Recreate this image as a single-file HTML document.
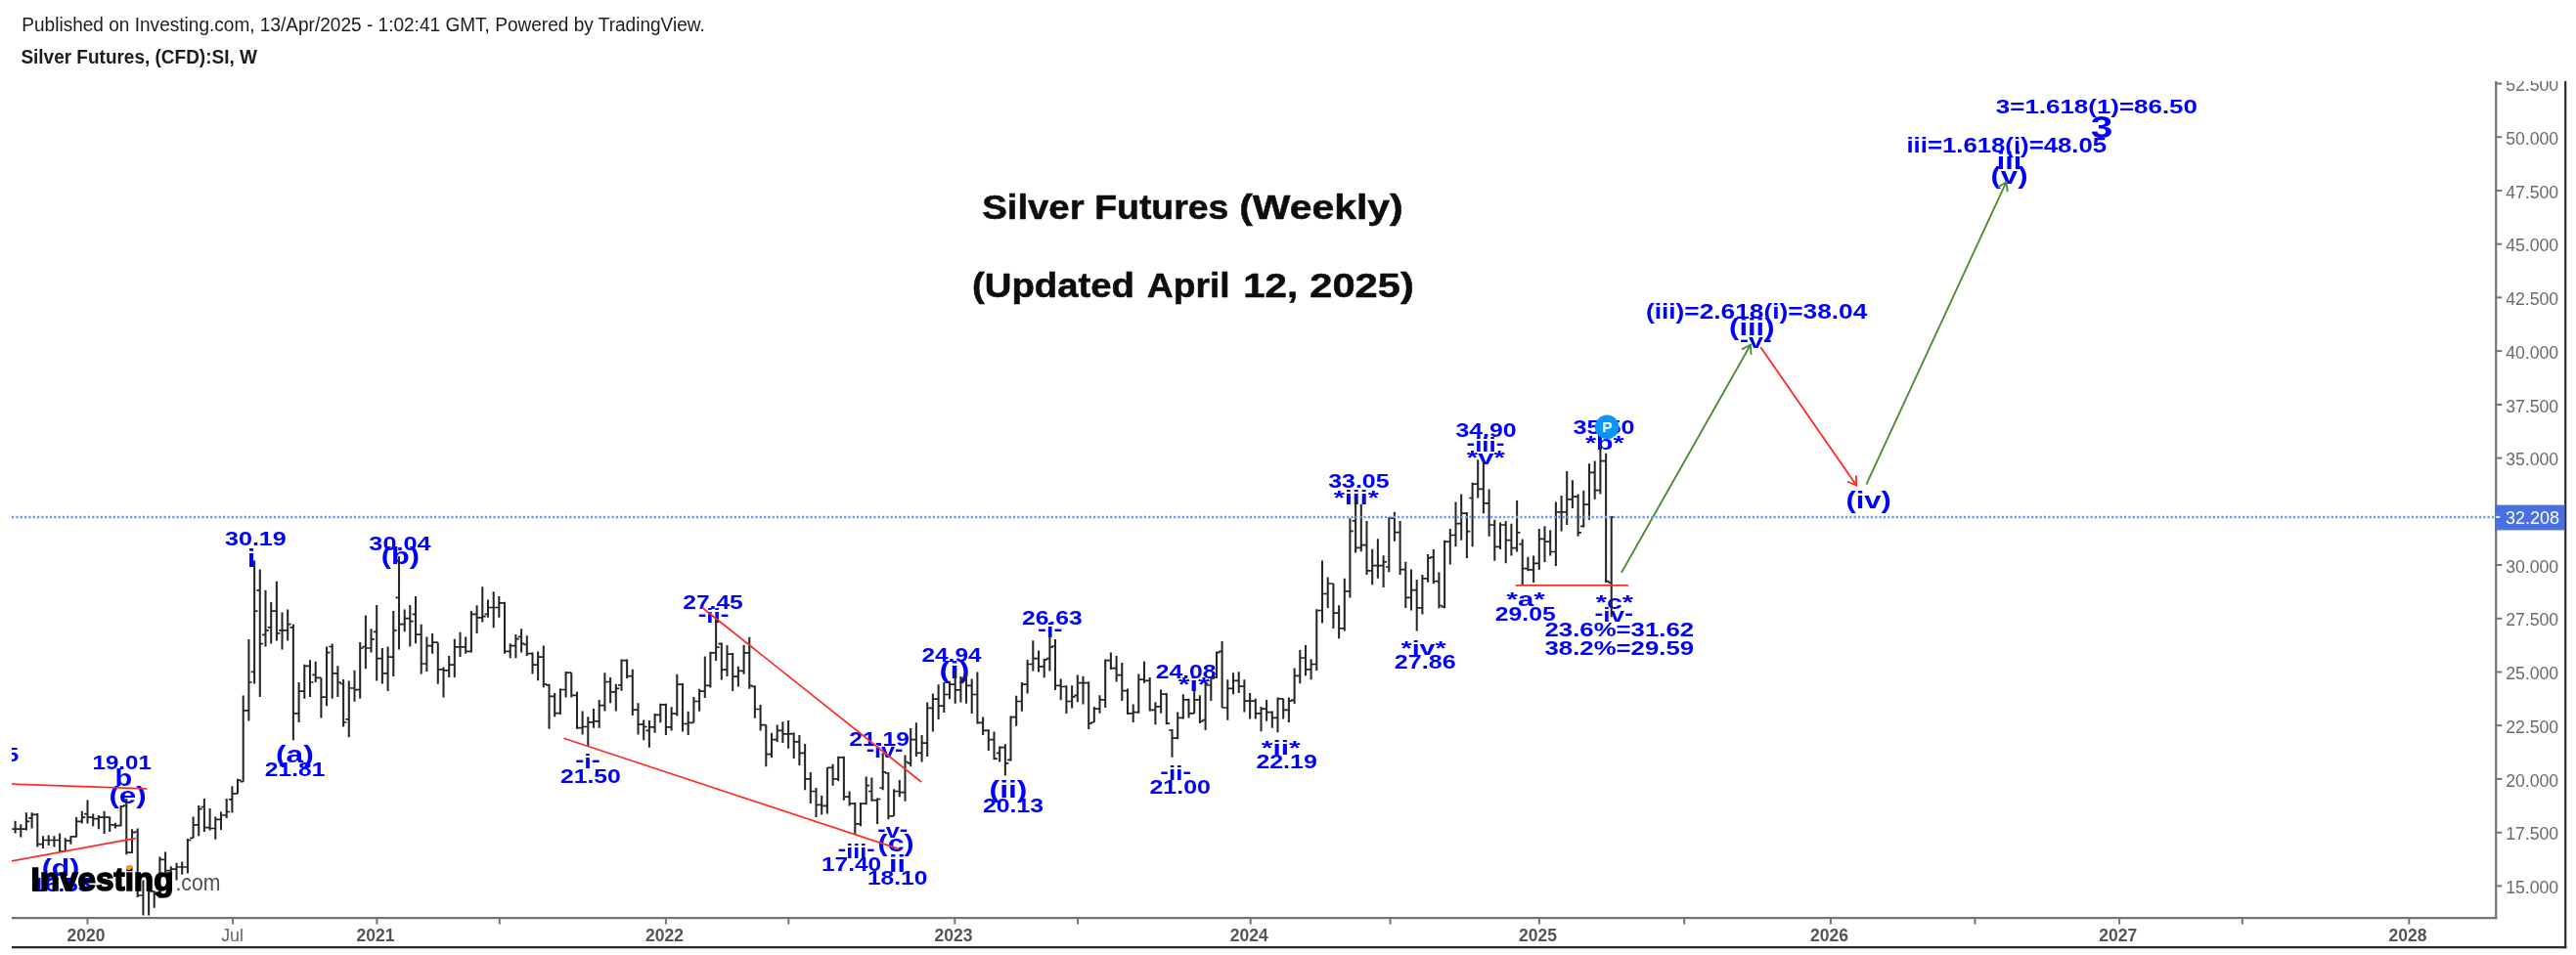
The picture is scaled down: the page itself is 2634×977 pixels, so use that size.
<!DOCTYPE html>
<html><head><meta charset="utf-8"><title>Silver Futures (Weekly)</title><style>html,body{margin:0;padding:0;background:#fff;overflow:hidden}</style></head><body>
<svg width="2634" height="977" viewBox="0 0 2634 977" style="display:block;font-family:'Liberation Sans',sans-serif">
<defs><clipPath id="ct"><rect x="2555" y="83" width="70" height="30"/></clipPath><clipPath id="cp"><rect x="12" y="83" width="2540" height="853.5"/></clipPath><filter id="bl" x="-5%" y="-5%" width="110%" height="110%"><feGaussianBlur stdDeviation="0.55"/></filter><filter id="bl2" x="-1%" y="-5%" width="102%" height="110%"><feGaussianBlur stdDeviation="0.45"/></filter></defs>
<rect width="2634" height="977" fill="#fff"/>
<g filter="url(#bl)">
<text x="22.3" y="32.2" font-size="19.6" fill="#1c1c1c" textLength="698.5" lengthAdjust="spacingAndGlyphs">Published on Investing.com, 13/Apr/2025 - 1:02:41 GMT, Powered by TradingView.</text>
<text x="21.4" y="64.7" font-size="19.6" font-weight="bold" fill="#1c1c1c" textLength="241.5" lengthAdjust="spacingAndGlyphs">Silver Futures, (CFD):SI, W</text>
<g clip-path="url(#cp)">
<text x="-11.1" y="779.3" font-size="20.7" font-weight="bold" fill="#0000ff" text-anchor="middle" textLength="61.0" lengthAdjust="spacingAndGlyphs">19.75</text>
<text x="124.7" y="786.8" font-size="20.7" font-weight="bold" fill="#0000ff" text-anchor="middle" textLength="60.4" lengthAdjust="spacingAndGlyphs">19.01</text>
<text x="261.4" y="558.2" font-size="20.7" font-weight="bold" fill="#0000ff" text-anchor="middle" textLength="62.9" lengthAdjust="spacingAndGlyphs">30.19</text>
<text x="409.0" y="562.7" font-size="20.7" font-weight="bold" fill="#0000ff" text-anchor="middle" textLength="63.3" lengthAdjust="spacingAndGlyphs">30.04</text>
<text x="301.6" y="794.0" font-size="20.7" font-weight="bold" fill="#0000ff" text-anchor="middle" textLength="61.6" lengthAdjust="spacingAndGlyphs">21.81</text>
<text x="603.9" y="801.3" font-size="20.7" font-weight="bold" fill="#0000ff" text-anchor="middle" textLength="61.9" lengthAdjust="spacingAndGlyphs">21.50</text>
<text x="729.0" y="622.7" font-size="20.7" font-weight="bold" fill="#0000ff" text-anchor="middle" textLength="61.5" lengthAdjust="spacingAndGlyphs">27.45</text>
<text x="899.1" y="762.6" font-size="20.7" font-weight="bold" fill="#0000ff" text-anchor="middle" textLength="61.6" lengthAdjust="spacingAndGlyphs">21.19</text>
<text x="870.6" y="891.2" font-size="20.7" font-weight="bold" fill="#0000ff" text-anchor="middle" textLength="61.3" lengthAdjust="spacingAndGlyphs">17.40</text>
<text x="917.7" y="905.3" font-size="20.7" font-weight="bold" fill="#0000ff" text-anchor="middle" textLength="61.5" lengthAdjust="spacingAndGlyphs">18.10</text>
<text x="973.0" y="677.1" font-size="20.7" font-weight="bold" fill="#0000ff" text-anchor="middle" textLength="61.0" lengthAdjust="spacingAndGlyphs">24.94</text>
<text x="1036.0" y="831.3" font-size="20.7" font-weight="bold" fill="#0000ff" text-anchor="middle" textLength="62.0" lengthAdjust="spacingAndGlyphs">20.13</text>
<text x="1075.8" y="638.5" font-size="20.7" font-weight="bold" fill="#0000ff" text-anchor="middle" textLength="61.7" lengthAdjust="spacingAndGlyphs">26.63</text>
<text x="1212.6" y="694.3" font-size="20.7" font-weight="bold" fill="#0000ff" text-anchor="middle" textLength="61.9" lengthAdjust="spacingAndGlyphs">24.08</text>
<text x="1206.7" y="811.6" font-size="20.7" font-weight="bold" fill="#0000ff" text-anchor="middle" textLength="62.4" lengthAdjust="spacingAndGlyphs">21.00</text>
<text x="1315.6" y="785.6" font-size="20.7" font-weight="bold" fill="#0000ff" text-anchor="middle" textLength="62.4" lengthAdjust="spacingAndGlyphs">22.19</text>
<text x="1389.4" y="498.5" font-size="20.7" font-weight="bold" fill="#0000ff" text-anchor="middle" textLength="62.4" lengthAdjust="spacingAndGlyphs">33.05</text>
<text x="1457.2" y="684.1" font-size="20.7" font-weight="bold" fill="#0000ff" text-anchor="middle" textLength="62.8" lengthAdjust="spacingAndGlyphs">27.86</text>
<text x="1519.5" y="447.2" font-size="20.7" font-weight="bold" fill="#0000ff" text-anchor="middle" textLength="62.1" lengthAdjust="spacingAndGlyphs">34.90</text>
<text x="1640.0" y="444.2" font-size="20.7" font-weight="bold" fill="#0000ff" text-anchor="middle" textLength="63.1" lengthAdjust="spacingAndGlyphs">35.50</text>
<text x="1559.8" y="635.4" font-size="20.7" font-weight="bold" fill="#0000ff" text-anchor="middle" textLength="61.9" lengthAdjust="spacingAndGlyphs">29.05</text>
<text x="1655.8" y="650.5" font-size="20.7" font-weight="bold" fill="#0000ff" text-anchor="middle" textLength="152.6" lengthAdjust="spacingAndGlyphs">23.6%=31.62</text>
<text x="1655.8" y="670.2" font-size="20.7" font-weight="bold" fill="#0000ff" text-anchor="middle" textLength="152.6" lengthAdjust="spacingAndGlyphs">38.2%=29.59</text>
<text x="62.8" y="911.6" font-size="20.7" font-weight="bold" fill="#0000ff" text-anchor="middle" textLength="60.6" lengthAdjust="spacingAndGlyphs">16.55</text>
<text x="601.1" y="786.2" font-size="20.8" font-weight="bold" fill="#0000ff" text-anchor="middle" textLength="25.6" lengthAdjust="spacingAndGlyphs"><tspan dy="-2.2">-</tspan><tspan dy="2.2">i</tspan><tspan dy="-2.2">-</tspan></text>
<text x="729.6" y="636.9" font-size="20.8" font-weight="bold" fill="#0000ff" text-anchor="middle" textLength="31.8" lengthAdjust="spacingAndGlyphs"><tspan dy="-2.2">-</tspan><tspan dy="2.2">ii</tspan><tspan dy="-2.2">-</tspan></text>
<text x="904.6" y="775.2" font-size="20.8" font-weight="bold" fill="#0000ff" text-anchor="middle" textLength="37.9" lengthAdjust="spacingAndGlyphs"><tspan dy="-2.2">-</tspan><tspan dy="2.2">iv</tspan><tspan dy="-2.2">-</tspan></text>
<text x="875.8" y="877.5" font-size="20.8" font-weight="bold" fill="#0000ff" text-anchor="middle" textLength="38.0" lengthAdjust="spacingAndGlyphs"><tspan dy="-2.2">-</tspan><tspan dy="2.2">iii</tspan><tspan dy="-2.2">-</tspan></text>
<text x="912.8" y="857.2" font-size="20.8" font-weight="bold" fill="#0000ff" text-anchor="middle" textLength="31.0" lengthAdjust="spacingAndGlyphs"><tspan dy="-2.2">-</tspan><tspan dy="2.2">v</tspan><tspan dy="-2.2">-</tspan></text>
<text x="1073.8" y="651.9" font-size="20.8" font-weight="bold" fill="#0000ff" text-anchor="middle" textLength="25.5" lengthAdjust="spacingAndGlyphs"><tspan dy="-2.2">-</tspan><tspan dy="2.2">i</tspan><tspan dy="-2.2">-</tspan></text>
<text x="1220.8" y="706.9" font-size="20.8" font-weight="bold" fill="#0000ff" text-anchor="middle" textLength="32.2" lengthAdjust="spacingAndGlyphs">*i*</text>
<text x="1202.2" y="797.7" font-size="20.8" font-weight="bold" fill="#0000ff" text-anchor="middle" textLength="31.8" lengthAdjust="spacingAndGlyphs"><tspan dy="-2.2">-</tspan><tspan dy="2.2">ii</tspan><tspan dy="-2.2">-</tspan></text>
<text x="1309.7" y="772.2" font-size="20.8" font-weight="bold" fill="#0000ff" text-anchor="middle" textLength="39.8" lengthAdjust="spacingAndGlyphs">*ii*</text>
<text x="1386.8" y="515.5" font-size="20.8" font-weight="bold" fill="#0000ff" text-anchor="middle" textLength="46.0" lengthAdjust="spacingAndGlyphs">*iii*</text>
<text x="1455.6" y="670.3" font-size="20.8" font-weight="bold" fill="#0000ff" text-anchor="middle" textLength="46.1" lengthAdjust="spacingAndGlyphs">*iv*</text>
<text x="1519.0" y="461.9" font-size="20.8" font-weight="bold" fill="#0000ff" text-anchor="middle" textLength="39.0" lengthAdjust="spacingAndGlyphs"><tspan dy="-2.2">-</tspan><tspan dy="2.2">iii</tspan><tspan dy="-2.2">-</tspan></text>
<text x="1519.3" y="475.0" font-size="20.8" font-weight="bold" fill="#0000ff" text-anchor="middle" textLength="38.9" lengthAdjust="spacingAndGlyphs">*v*</text>
<text x="1640.8" y="459.6" font-size="20.8" font-weight="bold" fill="#0000ff" text-anchor="middle" textLength="39.8" lengthAdjust="spacingAndGlyphs">*b*</text>
<text x="1560.2" y="620.3" font-size="20.8" font-weight="bold" fill="#0000ff" text-anchor="middle" textLength="39.2" lengthAdjust="spacingAndGlyphs">*a*</text>
<text x="1650.9" y="622.8" font-size="20.8" font-weight="bold" fill="#0000ff" text-anchor="middle" textLength="38.3" lengthAdjust="spacingAndGlyphs">*c*</text>
<text x="1650.3" y="636.2" font-size="20.8" font-weight="bold" fill="#0000ff" text-anchor="middle" textLength="39.5" lengthAdjust="spacingAndGlyphs"><tspan dy="-2.2">-</tspan><tspan dy="2.2">iv</tspan><tspan dy="-2.2">-</tspan></text>
<text x="1795.4" y="355.8" font-size="20.8" font-weight="bold" fill="#0000ff" text-anchor="middle" textLength="32.9" lengthAdjust="spacingAndGlyphs"><tspan dy="-2.2">-</tspan><tspan dy="2.2">v</tspan><tspan dy="-2.2">-</tspan></text>
<text x="130.6" y="822.1" font-size="23.5" font-weight="bold" fill="#0000ff" text-anchor="middle" textLength="38.4" lengthAdjust="spacingAndGlyphs">(e)</text>
<text x="62.0" y="895.8" font-size="23.5" font-weight="bold" fill="#0000ff" text-anchor="middle" textLength="38.5" lengthAdjust="spacingAndGlyphs">(d)</text>
<text x="409.4" y="577.4" font-size="23.5" font-weight="bold" fill="#0000ff" text-anchor="middle" textLength="39.2" lengthAdjust="spacingAndGlyphs">(b)</text>
<text x="301.4" y="779.5" font-size="23.5" font-weight="bold" fill="#0000ff" text-anchor="middle" textLength="38.8" lengthAdjust="spacingAndGlyphs">(a)</text>
<text x="916.1" y="870.6" font-size="23.5" font-weight="bold" fill="#0000ff" text-anchor="middle" textLength="37.0" lengthAdjust="spacingAndGlyphs">(c)</text>
<text x="976.0" y="693.6" font-size="23.5" font-weight="bold" fill="#0000ff" text-anchor="middle" textLength="31.2" lengthAdjust="spacingAndGlyphs">(i)</text>
<text x="1031.0" y="816.1" font-size="23.5" font-weight="bold" fill="#0000ff" text-anchor="middle" textLength="38.9" lengthAdjust="spacingAndGlyphs">(ii)</text>
<text x="1791.3" y="343.4" font-size="23.5" font-weight="bold" fill="#0000ff" text-anchor="middle" textLength="46.4" lengthAdjust="spacingAndGlyphs">(iii)</text>
<text x="1910.6" y="520.1" font-size="23.5" font-weight="bold" fill="#0000ff" text-anchor="middle" textLength="46.4" lengthAdjust="spacingAndGlyphs">(iv)</text>
<text x="2054.5" y="188.0" font-size="23.5" font-weight="bold" fill="#0000ff" text-anchor="middle" textLength="38.0" lengthAdjust="spacingAndGlyphs">(v)</text>
<text x="126.3" y="804.4" font-size="23" font-weight="bold" fill="#0000ff" text-anchor="middle" textLength="17.7" lengthAdjust="spacingAndGlyphs">b</text>
<text x="257.2" y="579.5" font-size="26.5" font-weight="bold" fill="#0000ff" text-anchor="middle" textLength="8.2" lengthAdjust="spacingAndGlyphs">i</text>
<text x="917.6" y="892.0" font-size="24" font-weight="bold" fill="#0000ff" text-anchor="middle" textLength="17.0" lengthAdjust="spacingAndGlyphs">ii</text>
<text x="2054.5" y="173.3" font-size="24" font-weight="bold" fill="#0000ff" text-anchor="middle" textLength="25.4" lengthAdjust="spacingAndGlyphs">iii</text>
<text x="2149.2" y="140.9" font-size="31.5" font-weight="bold" fill="#0000ff" text-anchor="middle" textLength="22.7" lengthAdjust="spacingAndGlyphs">3</text>
<text x="1796.1" y="326.4" font-size="21.2" font-weight="bold" fill="#0000ff" text-anchor="middle" textLength="226.4" lengthAdjust="spacingAndGlyphs">(iii)=2.618(i)=38.04</text>
<text x="2143.9" y="116.0" font-size="20.8" font-weight="bold" fill="#0000ff" text-anchor="middle" textLength="206.1" lengthAdjust="spacingAndGlyphs">3=1.618(1)=86.50</text>
<text x="2051.8" y="156.0" font-size="21.4" font-weight="bold" fill="#0000ff" text-anchor="middle" textLength="204.7" lengthAdjust="spacingAndGlyphs">iii=1.618(i)=48.05</text>
<g filter="url(#bl2)">
<path d="M15.6 839.7V852.4M21.3 843.2V856.6M26.9 831.2V849.6M32.6 831.2V847.5M38.3 831.9V866.5M44.0 855.2V868.0M49.7 854.5V865.1M55.4 855.2V866.5M61.1 852.4V871.5M66.8 857.3V870.8M72.4 855.2V863.7M78.1 836.1V856.6M83.8 829.8V842.5M89.5 818.5V842.5M95.2 832.6V845.3M100.9 834.0V848.2M106.6 829.8V853.1M112.2 835.4V851.0M117.9 841.8V847.5M123.6 824.1V845.3M129.3 817.1V874.3M135.0 848.2V872.9M140.7 847.5V918.1M146.4 900.5V951.3M152.1 908.9V951.3M157.7 911.8V928.7M163.4 876.4V918.8M169.1 871.5V894.8M174.8 886.3V899.0M180.5 882.8V900.5M186.2 881.4V894.8M191.9 858.1V893.4M197.6 835.4V857.3M203.2 824.1V855.2M208.9 817.1V851.0M214.6 827.0V849.6M220.3 835.4V858.8M226.0 830.5V848.9M231.7 817.1V836.9M237.4 804.3V831.6M243.0 796.7V811.9M248.7 711.6V799.7M254.4 653.9V737.4M260.1 573.4V699.5M265.8 582.5V713.1M271.5 603.8V661.5M277.2 615.9V658.5M282.9 594.7V655.4M288.5 626.6V664.5M294.2 623.5V655.4M299.9 638.7V757.2M305.6 698.0V739.0M311.3 679.7V714.7M317.0 675.2V713.1M322.7 676.7V698.0M328.4 693.4V734.4M334.0 661.5V722.3M339.7 658.5V714.7M345.4 681.3V713.1M351.1 694.9V743.5M356.8 696.4V754.2M362.5 685.8V717.7M368.2 657.0V714.7M373.9 629.6V684.3M379.5 643.3V667.6M385.2 619.0V696.4M390.9 663.0V699.5M396.6 661.5V707.1M402.3 625.1V691.9M408.0 568.9V664.5M413.7 623.5V646.3M419.3 619.0V661.5M425.0 609.9V658.3M430.7 638.7V689.4M436.4 651.4V687.1M442.1 647.9V668.7M447.8 657.2V699.8M453.5 682.5V713.6M459.2 671.0V692.9M464.8 653.7V692.9M470.5 646.8V672.1M476.2 651.4V668.7M481.9 624.9V667.5M487.6 619.2V647.9M493.3 600.3V636.4M499.0 613.4V631.8M504.7 605.3V642.2M510.3 609.9V631.8M516.0 615.7V668.7M521.7 658.3V673.3M527.4 649.1V673.3M533.1 643.3V667.5M538.8 650.2V671.0M544.5 667.5V689.4M550.1 666.4V696.3M555.8 660.6V703.2M561.5 699.8V745.8M567.2 709.0V733.2M572.9 704.4V730.9M578.6 687.1V713.6M584.3 688.2V713.6M590.0 707.8V745.8M595.6 727.4V751.6M601.3 733.2V763.1M607.0 725.1V744.7M612.7 715.9V744.7M618.4 688.2V727.4M624.1 692.9V719.3M629.8 699.8V727.4M635.5 674.4V706.7M641.1 674.4V694.0M646.8 684.8V732.0M652.5 719.3V751.6M658.2 736.6V757.3M663.9 737.0V764.7M669.6 730.1V749.7M675.3 719.8V739.3M680.9 719.8V752.0M686.6 723.2V747.4M692.3 689.8V732.4M698.0 699.0V748.5M703.7 727.8V752.0M709.4 712.9V739.3M715.1 704.8V727.8M720.8 671.4V714.0M726.4 666.8V703.6M732.1 631.1V676.0M737.8 657.6V695.6M743.5 659.9V692.1M749.2 667.9V707.1M754.9 681.8V702.5M760.6 659.9V689.8M766.3 651.8V704.8M771.9 701.3V734.7M777.6 720.9V747.4M783.3 741.6V784.2M789.0 749.7V775.0M794.7 741.6V758.9M800.4 738.2V760.1M806.1 737.0V765.8M811.7 749.6V776.1M817.4 751.9V783.0M823.1 761.1V808.3M828.8 789.9V822.1M834.5 806.0V835.9M840.2 814.1V833.6M845.9 785.3V832.5M851.6 781.8V803.7M857.2 773.8V799.1M862.9 773.8V818.7M868.6 809.5V824.4M874.3 821.0V853.2M880.0 821.0V845.2M885.7 794.5V823.3M891.4 795.6V819.8M897.1 816.4V842.9M902.7 770.3V808.3M908.4 789.9V838.2M914.1 807.2V834.8M919.8 797.9V815.2M925.5 772.6V819.8M931.2 745.1V784.2M936.9 739.3V773.9M942.6 752.0V779.6M948.2 718.6V773.9M953.9 709.4V748.5M959.6 700.2V735.9M965.3 697.9V729.0M971.0 696.7V715.2M976.7 686.4V719.8M982.4 692.1V718.6M988.0 688.7V719.8M993.7 694.4V730.1M999.4 687.5V740.5M1005.1 733.6V752.0M1010.8 746.2V768.1M1016.5 748.5V777.3M1022.2 763.5V779.6M1027.9 761.2V793.5M1033.5 732.4V778.5M1039.2 711.7V742.8M1044.9 697.9V727.8M1050.6 674.9V709.4M1056.3 655.3V686.4M1062.0 665.6V687.5M1067.7 673.7V693.3M1073.4 649.5V686.4M1079.0 654.1V705.9M1084.7 694.4V716.3M1090.4 701.3V730.1M1096.1 701.3V724.4M1101.8 690.6V718.2M1107.5 691.8V720.5M1113.2 697.5V745.9M1118.8 722.9V739.0M1124.5 711.3V729.8M1130.2 674.5V724.0M1135.9 667.6V684.9M1141.6 671.0V697.5M1147.3 677.9V717.1M1153.0 704.4V730.9M1158.7 720.5V739.0M1164.3 689.5V729.8M1170.0 676.8V698.7M1175.7 692.9V727.5M1181.4 718.2V741.3M1187.1 705.6V729.8M1192.8 709.0V741.3M1198.5 745.9V774.7M1204.2 728.6V756.2M1209.8 710.2V735.5M1215.5 714.8V734.4M1221.2 706.7V729.8M1226.9 711.3V740.1M1232.6 698.7V747.0M1238.3 692.9V717.1M1244.0 666.4V694.1M1249.6 656.1V724.0M1255.3 695.2V736.7M1261.0 688.3V710.2M1266.7 687.2V709.0M1272.4 695.2V728.6M1278.1 709.0V735.5M1283.8 714.8V735.5M1289.5 722.9V748.2M1295.1 715.9V737.8M1300.8 727.5V744.7M1306.5 713.6V749.3M1312.2 714.8V735.5M1317.9 713.6V739.0M1323.6 683.5V720.1M1329.3 665.1V699.2M1335.0 659.9V691.3M1340.6 674.3V695.2M1346.3 623.2V686.1M1352.0 573.5V637.6M1357.7 590.5V621.9M1363.4 597.0V642.9M1369.1 619.3V653.3M1374.8 591.8V645.5M1380.4 530.2V611.4M1386.1 509.3V565.6M1391.8 515.8V564.3M1397.5 532.9V587.9M1403.2 561.7V598.3M1408.9 551.2V591.8M1414.6 568.2V601.0M1420.3 528.9V585.2M1425.9 523.7V553.8M1431.6 532.9V587.9M1437.3 574.8V621.9M1443.0 582.6V624.5M1448.7 593.1V645.5M1454.4 587.9V628.5M1460.1 566.9V595.7M1465.8 561.9V597.3M1471.4 585.5V622.2M1477.1 552.7V622.2M1482.8 541.0V577.6M1488.5 513.5V559.3M1494.2 505.6V552.7M1499.9 523.9V571.1M1505.6 493.8V559.3M1511.2 470.2V509.5M1516.9 471.6V525.2M1522.6 500.4V548.8M1528.3 531.8V573.7M1534.0 534.4V561.9M1539.7 533.1V576.3M1545.4 535.7V568.5M1551.1 512.1V564.5M1556.7 551.4V598.6M1562.4 569.8V584.2M1568.1 568.5V596.0M1573.8 541.0V582.9M1579.5 538.3V575.0M1585.2 542.3V568.5M1590.9 513.5V578.9M1596.6 506.9V543.6M1602.2 482.0V537.0M1607.9 491.2V520.0M1613.6 505.6V548.8M1619.3 501.7V539.6M1625.0 474.2V531.8M1630.7 471.6V510.8M1636.4 455.8V505.6M1642.1 463.7V596.0M1647.7 527.9V631.3" stroke="#262626" stroke-width="2.05" fill="none"/>
<path d="M12.2 848.2H15.6M15.6 848.2H19.0M17.9 848.2H21.3M21.3 848.2H24.7M23.5 848.2H26.9M26.9 840.4H30.3M29.2 836.9H32.6M32.6 833.3H36.0M34.9 833.3H38.3M38.3 863.7H41.7M40.6 863.7H44.0M44.0 859.5H47.4M46.3 859.5H49.7M49.7 859.5H53.1M52.0 859.5H55.4M55.4 859.5H58.8M57.7 859.5H61.1M61.1 870.8H64.5M63.4 870.8H66.8M66.8 860.2H70.2M69.0 860.2H72.4M72.4 855.9H75.8M74.7 855.9H78.1M78.1 840.4H81.5M80.4 840.4H83.8M83.8 836.1H87.2M86.1 832.6H89.5M89.5 836.1H92.9M91.8 836.1H95.2M95.2 837.6H98.6M97.5 837.6H100.9M100.9 836.1H104.3M103.2 836.1H106.6M106.6 836.1H110.0M108.8 836.1H112.2M112.2 843.9H115.6M114.5 843.9H117.9M117.9 844.6H121.3M120.2 844.6H123.6M123.6 824.8H127.0M125.9 824.1H129.3M129.3 872.2H132.7M131.6 872.2H135.0M135.0 851.7H138.4M137.3 851.0H140.7M140.7 916.0H144.1M143.0 916.0H146.4M146.4 937.9H149.8M148.7 937.9H152.1M152.1 911.8H155.5M154.3 911.8H157.7M157.7 914.6H161.1M160.0 914.6H163.4M163.4 879.3H166.8M165.7 879.3H169.1M169.1 890.6H172.5M171.4 890.6H174.8M174.8 889.2H178.2M177.1 889.2H180.5M180.5 887.0H183.9M182.8 887.0H186.2M186.2 887.0H189.6M188.5 887.0H191.9M191.9 859.5H195.3M194.2 857.3H197.6M197.6 843.9H201.0M199.8 843.9H203.2M203.2 827.7H206.6M205.5 825.5H208.9M208.9 846.7H212.3M211.2 846.7H214.6M214.6 847.5H218.0M216.9 847.5H220.3M220.3 838.3H223.7M222.6 838.3H226.0M226.0 834.0H229.4M228.3 834.0H231.7M231.7 830.5H235.1M234.0 817.9H237.4M237.4 811.9H240.8M239.6 811.9H243.0M243.0 798.2H246.4M245.3 799.7H248.7M248.7 726.8H252.1M251.0 726.8H254.4M254.4 698.0H257.8M256.7 687.3H260.1M260.1 625.1H263.5M262.4 603.8H265.8M265.8 658.5H269.2M268.1 649.4H271.5M271.5 644.8H274.9M273.8 641.8H277.2M277.2 625.1H280.6M279.5 625.1H282.9M282.9 647.8H286.3M285.1 644.8H288.5M288.5 644.8H291.9M290.8 644.8H294.2M294.2 638.7H297.6M296.5 641.8H299.9M299.9 729.9H303.3M302.2 729.9H305.6M305.6 707.1H309.0M307.9 707.1H311.3M311.3 681.3H314.7M313.6 681.3H317.0M317.0 698.0H320.4M319.3 690.4H322.7M322.7 693.4H326.1M325.0 693.4H328.4M328.4 713.1H331.8M330.6 713.1H334.0M334.0 667.6H337.4M336.3 661.5H339.7M339.7 688.8H343.1M342.0 688.8H345.4M345.4 698.0H348.8M347.7 699.5H351.1M351.1 739.0H354.5M353.4 735.9H356.8M356.8 704.0H360.2M359.1 704.0H362.5M362.5 705.6H365.9M364.8 705.6H368.2M368.2 663.0H371.6M370.5 661.5H373.9M373.9 663.0H377.2M376.1 663.0H379.5M379.5 653.9H382.9M381.8 646.3H385.2M385.2 673.7H388.6M387.5 673.7H390.9M390.9 688.8H394.3M393.2 688.8H396.6M396.6 672.1H400.0M398.9 672.1H402.3M402.3 644.8H405.7M404.6 611.4H408.0M408.0 638.7H411.4M410.3 638.7H413.7M413.7 632.6H417.1M415.9 632.6H419.3M419.3 635.7H422.7M421.6 628.4H425.0M425.0 649.1H428.4M427.3 649.1H430.7M430.7 679.0H434.1M433.0 679.0H436.4M436.4 660.6H439.8M438.7 660.6H442.1M442.1 657.2H445.5M444.4 657.2H447.8M447.8 684.8H451.2M450.1 684.8H453.5M453.5 685.9H456.9M455.8 685.9H459.2M459.2 680.2H462.6M461.4 680.2H464.8M464.8 661.8H468.2M467.1 661.8H470.5M470.5 661.8H473.9M472.8 661.8H476.2M476.2 666.4H479.6M478.5 666.4H481.9M481.9 628.4H485.3M484.2 628.4H487.6M487.6 631.8H491.0M489.9 631.8H493.3M493.3 630.7H496.7M495.6 628.4H499.0M499.0 621.5H502.4M501.3 621.5H504.7M504.7 621.5H508.1M506.9 621.5H510.3M510.3 616.8H513.7M512.6 616.8H516.0M516.0 666.4H519.4M518.3 666.4H521.7M521.7 660.6H525.1M524.0 660.6H527.4M527.4 653.7H530.8M529.7 651.4H533.1M533.1 658.3H536.5M535.4 659.5H538.8M538.8 668.7H542.2M541.1 668.7H544.5M544.5 680.2H547.9M546.7 680.2H550.1M550.1 672.1H553.5M552.4 672.1H555.8M555.8 699.8H559.2M558.1 700.9H561.5M561.5 712.4H564.9M563.8 712.4H567.2M567.2 729.7H570.6M569.5 729.7H572.9M572.9 705.5H576.3M575.2 705.5H578.6M578.6 688.2H582.0M580.9 688.2H584.3M584.3 711.3H587.7M586.6 711.3H590.0M590.0 744.7H593.4M592.2 744.7H595.6M595.6 743.5H599.0M597.9 743.5H601.3M601.3 738.9H604.7M603.6 738.9H607.0M607.0 737.8H610.4M609.3 737.8H612.7M612.7 721.6H616.1M615.0 721.6H618.4M618.4 697.5H621.8M620.7 697.5H624.1M624.1 707.8H627.5M626.4 707.8H629.8M629.8 704.4H633.2M632.1 700.9H635.5M635.5 675.6H638.9M637.7 675.6H641.1M641.1 691.7H644.5M643.4 691.7H646.8M646.8 726.2H650.2M649.1 726.2H652.5M652.5 741.2H655.9M654.8 741.2H658.2M658.2 743.5H661.6M660.5 747.4H663.9M663.9 743.9H667.3M666.2 743.9H669.6M669.6 731.3H673.0M671.9 731.3H675.3M675.3 720.9H678.7M677.5 720.9H680.9M680.9 743.9H684.3M683.2 743.9H686.6M686.6 730.1H690.0M688.9 730.1H692.3M692.3 700.2H695.7M694.6 700.2H698.0M698.0 740.5H701.4M700.3 740.5H703.7M703.7 739.3H707.1M706.0 739.3H709.4M709.4 717.5H712.8M711.7 717.5H715.1M715.1 707.1H718.5M717.4 707.1H720.8M720.8 701.3H724.2M723.0 701.3H726.4M726.4 667.9H729.8M728.7 667.9H732.1M732.1 662.2H735.5M734.4 658.7H737.8M737.8 685.2H741.2M740.1 685.2H743.5M743.5 669.1H746.9M745.8 669.1H749.2M749.2 692.1H752.6M751.5 692.1H754.9M754.9 686.4H758.3M757.2 686.4H760.6M760.6 667.9H764.0M762.9 667.9H766.3M766.3 701.3H769.7M768.5 702.5H771.9M771.9 725.5H775.3M774.2 725.5H777.6M777.6 741.6H781.0M779.9 741.6H783.3M783.3 771.6H786.7M785.6 771.6H789.0M789.0 756.6H792.4M791.3 756.6H794.7M794.7 747.4H798.1M797.0 747.4H800.4M800.4 750.9H803.8M802.7 750.9H806.1M806.1 750.9H809.5M808.3 750.7H811.7M811.7 758.8H815.1M814.0 758.8H817.4M817.4 770.3H820.8M819.7 770.3H823.1M823.1 796.8H826.5M825.4 796.8H828.8M828.8 809.5H832.2M831.1 809.5H834.5M834.5 823.3H837.9M836.8 823.3H840.2M840.2 824.4H843.6M842.5 824.4H845.9M845.9 785.3H849.3M848.2 785.3H851.6M851.6 796.8H855.0M853.8 796.8H857.2M857.2 774.9H860.6M859.5 774.9H862.9M862.9 815.2H866.3M865.2 815.2H868.6M868.6 822.1H872.0M870.9 822.1H874.3M874.3 842.9H877.7M876.6 842.9H880.0M880.0 822.1H883.4M882.3 822.1H885.7M885.7 803.7H889.1M888.0 809.5H891.4M891.4 818.7H894.8M893.7 818.7H897.1M897.1 817.5H900.5M899.3 806.0H902.7M902.7 789.9H906.1M905.0 791.0H908.4M908.4 834.8H911.8M910.7 834.8H914.1M914.1 809.5H917.5M916.4 809.5H919.8M919.8 810.6H923.2M922.1 810.6H925.5M925.5 779.5H928.9M927.8 780.8H931.2M931.2 756.6H934.6M933.5 756.6H936.9M936.9 770.4H940.3M939.2 770.4H942.6M942.6 760.1H946.0M944.8 760.1H948.2M948.2 724.4H951.6M950.5 724.4H953.9M953.9 715.2H957.3M956.2 715.2H959.6M959.6 722.1H963.0M961.9 722.1H965.3M965.3 710.5H968.7M967.6 710.5H971.0M971.0 700.2H974.4M973.3 700.2H976.7M976.7 705.9H980.1M979.0 705.9H982.4M982.4 694.4H985.8M984.6 694.4H988.0M988.0 701.3H991.4M990.3 701.3H993.7M993.7 710.5H997.1M996.0 710.5H999.4M999.4 739.3H1002.8M1001.7 739.3H1005.1M1005.1 747.4H1008.5M1007.4 747.4H1010.8M1010.8 756.6H1014.2M1013.1 756.6H1016.5M1016.5 776.2H1019.9M1018.8 770.4H1022.2M1022.2 764.7H1025.6M1024.5 764.7H1027.9M1027.9 780.8H1031.3M1030.1 777.3H1033.5M1033.5 733.6H1036.9M1035.8 733.6H1039.2M1039.2 717.5H1042.6M1041.5 717.5H1044.9M1044.9 700.2H1048.3M1047.2 700.2H1050.6M1050.6 679.5H1054.0M1052.9 679.5H1056.3M1056.3 673.7H1059.7M1058.6 673.7H1062.0M1062.0 681.8H1065.4M1064.3 681.8H1067.7M1067.7 674.9H1071.1M1070.0 673.7H1073.4M1073.4 662.2H1076.8M1075.6 661.0H1079.0M1079.0 701.3H1082.4M1081.3 701.3H1084.7M1084.7 702.5H1088.1M1087.0 702.5H1090.4M1090.4 717.5H1093.8M1092.7 717.5H1096.1M1096.1 712.9H1099.5M1098.4 711.3H1101.8M1101.8 698.7H1105.2M1104.1 698.7H1107.5M1107.5 698.7H1110.9M1109.8 698.7H1113.2M1113.2 740.1H1116.6M1115.4 739.0H1118.8M1118.8 725.2H1122.2M1121.1 725.2H1124.5M1124.5 715.9H1127.9M1126.8 715.9H1130.2M1130.2 675.6H1133.6M1132.5 675.6H1135.9M1135.9 683.7H1139.3M1138.2 683.7H1141.6M1141.6 690.6H1145.0M1143.9 690.6H1147.3M1147.3 706.7H1150.7M1149.6 706.7H1153.0M1153.0 729.8H1156.4M1155.3 729.8H1158.7M1158.7 728.6H1162.1M1160.9 728.6H1164.3M1164.3 695.2H1167.7M1166.6 695.2H1170.0M1170.0 696.4H1173.4M1172.3 696.4H1175.7M1175.7 726.3H1179.1M1178.0 726.3H1181.4M1181.4 722.9H1184.8M1183.7 722.9H1187.1M1187.1 710.2H1190.5M1189.4 710.2H1192.8M1192.8 740.1H1196.2M1195.1 747.0H1198.5M1198.5 755.1H1201.9M1200.8 755.1H1204.2M1204.2 734.4H1207.6M1206.4 734.4H1209.8M1209.8 715.9H1213.2M1212.1 715.9H1215.5M1215.5 729.8H1218.9M1217.8 729.8H1221.2M1221.2 715.9H1224.6M1223.5 715.9H1226.9M1226.9 737.8H1230.3M1229.2 736.7H1232.6M1232.6 701.0H1236.0M1234.9 701.0H1238.3M1238.3 694.1H1241.7M1240.6 692.9H1244.0M1244.0 667.6H1247.4M1246.2 666.4H1249.6M1249.6 724.0H1253.0M1251.9 724.0H1255.3M1255.3 704.4H1258.7M1257.6 704.4H1261.0M1261.0 696.4H1264.4M1263.3 696.4H1266.7M1266.7 702.1H1270.1M1269.0 702.1H1272.4M1272.4 717.1H1275.8M1274.7 717.1H1278.1M1278.1 717.1H1281.5M1280.4 717.1H1283.8M1283.8 729.8H1287.2M1286.1 729.8H1289.5M1289.5 725.2H1292.9M1291.7 725.2H1295.1M1295.1 728.6H1298.5M1297.4 728.6H1300.8M1300.8 734.4H1304.2M1303.1 734.4H1306.5M1306.5 714.8H1309.9M1308.8 714.8H1312.2M1312.2 726.3H1315.6M1314.5 726.3H1317.9M1317.9 717.1H1321.3M1320.2 716.2H1323.6M1323.6 691.3H1327.0M1325.9 691.3H1329.3M1329.3 673.0H1332.7M1331.6 673.0H1335.0M1335.0 684.8H1338.4M1337.2 684.8H1340.6M1340.6 679.5H1344.0M1342.9 679.5H1346.3M1346.3 624.5H1349.7M1348.6 624.5H1352.0M1352.0 607.5H1355.4M1354.3 607.5H1357.7M1357.7 597.0H1361.1M1360.0 597.0H1363.4M1363.4 627.2H1366.8M1365.7 627.2H1369.1M1369.1 642.9H1372.5M1371.4 642.9H1374.8M1374.8 604.9H1378.2M1377.0 604.9H1380.4M1380.4 543.3H1383.8M1382.7 532.9H1386.1M1386.1 560.4H1389.5M1388.4 560.4H1391.8M1391.8 557.7H1395.2M1394.1 557.7H1397.5M1397.5 583.9H1400.9M1399.8 583.9H1403.2M1403.2 578.7H1406.6M1405.5 578.7H1408.9M1408.9 578.7H1412.3M1411.2 578.7H1414.6M1414.6 574.8H1418.0M1416.9 580.0H1420.3M1420.3 530.2H1423.7M1422.5 530.2H1425.9M1425.9 544.6H1429.3M1428.2 544.6H1431.6M1431.6 582.6H1435.0M1433.9 582.6H1437.3M1437.3 611.4H1440.7M1439.6 611.4H1443.0M1443.0 603.6H1446.4M1445.3 603.6H1448.7M1448.7 621.9H1452.1M1451.0 621.9H1454.4M1454.4 591.8H1457.8M1456.7 591.8H1460.1M1460.1 570.8H1463.5M1462.4 569.8H1465.8M1465.8 594.7H1469.2M1468.0 594.7H1471.4M1471.4 619.5H1474.8M1473.7 620.8H1477.1M1477.1 554.1H1480.5M1479.4 554.1H1482.8M1482.8 547.5H1486.2M1485.1 547.5H1488.5M1488.5 535.7H1491.9M1490.8 535.7H1494.2M1494.2 525.2H1497.6M1496.5 525.2H1499.9M1499.9 543.6H1503.3M1502.2 509.5H1505.6M1505.6 495.1H1509.0M1507.8 495.1H1511.2M1511.2 500.4H1514.7M1513.5 500.4H1516.9M1516.9 514.8H1520.3M1519.2 514.8H1522.6M1522.6 537.0H1526.0M1524.9 537.0H1528.3M1528.3 559.3H1531.7M1530.6 559.3H1534.0M1534.0 537.0H1537.4M1536.3 537.0H1539.7M1539.7 552.7H1543.1M1542.0 552.7H1545.4M1545.4 560.6H1548.8M1547.7 560.6H1551.1M1551.1 544.9H1554.5M1553.3 556.7H1556.7M1556.7 581.6H1560.1M1559.0 581.6H1562.4M1562.4 582.9H1565.8M1564.7 582.9H1568.1M1568.1 576.3H1571.5M1570.4 576.3H1573.8M1573.8 551.4H1577.2M1576.1 551.4H1579.5M1579.5 554.1H1582.9M1581.8 554.1H1585.2M1585.2 564.5H1588.6M1587.5 564.5H1590.9M1590.9 523.9H1594.3M1593.2 523.9H1596.6M1596.6 523.9H1600.0M1598.8 523.9H1602.2M1602.2 510.8H1605.6M1604.5 510.8H1607.9M1607.9 508.2H1611.3M1610.2 508.2H1613.6M1613.6 544.9H1617.0M1615.9 538.3H1619.3M1619.3 516.1H1622.7M1621.6 516.1H1625.0M1625.0 483.3H1628.4M1627.3 483.3H1630.7M1630.7 501.7H1634.1M1633.0 501.7H1636.4M1636.4 471.6H1639.8M1638.7 471.6H1642.1M1642.1 594.7H1645.5M1644.3 596.0H1647.7M1647.7 529.2H1651.1" stroke="#262626" stroke-width="1.7" fill="none"/>
</g>
<line x1="11" y1="802.2" x2="149.6" y2="806.9" stroke="#ff2a2a" stroke-width="1.75" stroke-linecap="round"/>
<line x1="11" y1="881.0" x2="138.2" y2="857.7" stroke="#ff2a2a" stroke-width="1.75" stroke-linecap="round"/>
<line x1="577.2" y1="755.5" x2="918" y2="868.2" stroke="#ff2a2a" stroke-width="1.75" stroke-linecap="round"/>
<line x1="718.9" y1="622.2" x2="941.5" y2="799.5" stroke="#ff2a2a" stroke-width="1.75" stroke-linecap="round"/>
<line x1="1550.4" y1="598.9" x2="1664.3" y2="598.9" stroke="#ff2a2a" stroke-width="1.75" stroke-linecap="round"/>
<line x1="1658.3" y1="585.2" x2="1789.9" y2="352.8" stroke="#4f8a35" stroke-width="1.85" stroke-linecap="round"/>
<line x1="1789.9" y1="352.8" x2="1790.5" y2="362.1" stroke="#4f8a35" stroke-width="1.85" stroke-linecap="round"/>
<line x1="1789.9" y1="352.8" x2="1781.6" y2="357.1" stroke="#4f8a35" stroke-width="1.85" stroke-linecap="round"/>
<line x1="1800.7" y1="355.8" x2="1898.2" y2="496.5" stroke="#ff2a2a" stroke-width="1.85" stroke-linecap="round"/>
<line x1="1898.2" y1="496.5" x2="1889.6" y2="493.0" stroke="#ff2a2a" stroke-width="1.85" stroke-linecap="round"/>
<line x1="1898.2" y1="496.5" x2="1897.9" y2="487.2" stroke="#ff2a2a" stroke-width="1.85" stroke-linecap="round"/>
<line x1="1908.7" y1="494.8" x2="2051.4" y2="186.3" stroke="#4f8a35" stroke-width="1.85" stroke-linecap="round"/>
<line x1="2051.4" y1="186.3" x2="2052.7" y2="195.5" stroke="#4f8a35" stroke-width="1.85" stroke-linecap="round"/>
<line x1="2051.4" y1="186.3" x2="2043.5" y2="191.3" stroke="#4f8a35" stroke-width="1.85" stroke-linecap="round"/>
<line x1="12" y1="529" x2="2552" y2="529" stroke="#7696ee" stroke-width="2.4" stroke-dasharray="2.3 2.02"/>
<circle cx="1643.2" cy="436.9" r="12.3" fill="#0a96f7"/>
<text x="1643.4" y="442.4" font-size="15.5" font-weight="bold" fill="#fff" text-anchor="middle">P</text>
</g>
<text x="1056.4" y="223.9" font-size="35.5" font-weight="bold" fill="#0a0a0a" stroke="#0a0a0a" stroke-width="0.5" text-anchor="middle" textLength="104.5" lengthAdjust="spacingAndGlyphs">Silver</text>
<text x="1187.8" y="223.9" font-size="35.5" font-weight="bold" fill="#0a0a0a" stroke="#0a0a0a" stroke-width="0.5" text-anchor="middle" textLength="137.1" lengthAdjust="spacingAndGlyphs">Futures</text>
<text x="1350.9" y="223.9" font-size="35.5" font-weight="bold" fill="#0a0a0a" stroke="#0a0a0a" stroke-width="0.5" text-anchor="middle" textLength="167.5" lengthAdjust="spacingAndGlyphs">(Weekly)</text>
<text x="1077.0" y="303.6" font-size="35.5" font-weight="bold" fill="#0a0a0a" stroke="#0a0a0a" stroke-width="0.5" text-anchor="middle" textLength="166.0" lengthAdjust="spacingAndGlyphs">(Updated</text>
<text x="1215.2" y="303.6" font-size="35.5" font-weight="bold" fill="#0a0a0a" stroke="#0a0a0a" stroke-width="0.5" text-anchor="middle" textLength="84.8" lengthAdjust="spacingAndGlyphs">April</text>
<text x="1299.2" y="303.6" font-size="35.5" font-weight="bold" fill="#0a0a0a" stroke="#0a0a0a" stroke-width="0.5" text-anchor="middle" textLength="55.8" lengthAdjust="spacingAndGlyphs">12,</text>
<text x="1392.5" y="303.6" font-size="35.5" font-weight="bold" fill="#0a0a0a" stroke="#0a0a0a" stroke-width="0.5" text-anchor="middle" textLength="106.5" lengthAdjust="spacingAndGlyphs">2025)</text>
<text x="31.5" y="910.6" font-size="33" font-weight="bold" fill="#000" stroke="#000" stroke-width="1.6" textLength="146" lengthAdjust="spacingAndGlyphs">Investing</text>
<ellipse cx="132.3" cy="887.4" rx="3.4" ry="2.3" fill="#ff9d0a" transform="rotate(-28 132.3 887.4)"/>
<text x="179.4" y="910.8" font-size="24" fill="#505050" textLength="46" lengthAdjust="spacingAndGlyphs">.com</text>
<line x1="12" y1="939.2" x2="2553.3" y2="939.2" stroke="#747474" stroke-width="2.2"/>
<line x1="2552.2" y1="83" x2="2552.2" y2="940.3" stroke="#747474" stroke-width="2.2"/>
<line x1="2623.2" y1="83" x2="2623.2" y2="970.3" stroke="#2a2a2a" stroke-width="2.2"/>
<line x1="12" y1="969.2" x2="2624.3" y2="969.2" stroke="#2a2a2a" stroke-width="2.3"/>
<line x1="89.5" y1="939" x2="89.5" y2="945.6" stroke="#747474" stroke-width="2"/>
<text x="88.1" y="962.6" font-size="17.8" font-weight="bold" fill="#555" text-anchor="middle" textLength="39" lengthAdjust="spacingAndGlyphs">2020</text>
<line x1="238.1" y1="939" x2="238.1" y2="945.6" stroke="#747474" stroke-width="2"/>
<text x="237.5" y="962.6" font-size="17.8" fill="#666" text-anchor="middle">Jul</text>
<line x1="385.4" y1="939" x2="385.4" y2="945.6" stroke="#747474" stroke-width="2"/>
<text x="384.0" y="962.6" font-size="17.8" font-weight="bold" fill="#555" text-anchor="middle" textLength="39" lengthAdjust="spacingAndGlyphs">2021</text>
<line x1="510.8" y1="939" x2="510.8" y2="945.6" stroke="#747474" stroke-width="2"/>
<line x1="680.9" y1="939" x2="680.9" y2="945.6" stroke="#747474" stroke-width="2"/>
<text x="679.5" y="962.6" font-size="17.8" font-weight="bold" fill="#555" text-anchor="middle" textLength="39" lengthAdjust="spacingAndGlyphs">2022</text>
<line x1="806.3" y1="939" x2="806.3" y2="945.6" stroke="#747474" stroke-width="2"/>
<line x1="976.3" y1="939" x2="976.3" y2="945.6" stroke="#747474" stroke-width="2"/>
<text x="974.9" y="962.6" font-size="17.8" font-weight="bold" fill="#555" text-anchor="middle" textLength="39" lengthAdjust="spacingAndGlyphs">2023</text>
<line x1="1102.1" y1="939" x2="1102.1" y2="945.6" stroke="#747474" stroke-width="2"/>
<line x1="1278.7" y1="939" x2="1278.7" y2="945.6" stroke="#747474" stroke-width="2"/>
<text x="1277.3" y="962.6" font-size="17.8" font-weight="bold" fill="#555" text-anchor="middle" textLength="39" lengthAdjust="spacingAndGlyphs">2024</text>
<line x1="1421.5" y1="939" x2="1421.5" y2="945.6" stroke="#747474" stroke-width="2"/>
<line x1="1573.9" y1="939" x2="1573.9" y2="945.6" stroke="#747474" stroke-width="2"/>
<text x="1572.5" y="962.6" font-size="17.8" font-weight="bold" fill="#555" text-anchor="middle" textLength="39" lengthAdjust="spacingAndGlyphs">2025</text>
<line x1="1722.2" y1="939" x2="1722.2" y2="945.6" stroke="#747474" stroke-width="2"/>
<line x1="1871.9" y1="939" x2="1871.9" y2="945.6" stroke="#747474" stroke-width="2"/>
<text x="1870.5" y="962.6" font-size="17.8" font-weight="bold" fill="#555" text-anchor="middle" textLength="39" lengthAdjust="spacingAndGlyphs">2026</text>
<line x1="2019.5" y1="939" x2="2019.5" y2="945.6" stroke="#747474" stroke-width="2"/>
<line x1="2167.1" y1="939" x2="2167.1" y2="945.6" stroke="#747474" stroke-width="2"/>
<text x="2165.7" y="962.6" font-size="17.8" font-weight="bold" fill="#555" text-anchor="middle" textLength="39" lengthAdjust="spacingAndGlyphs">2027</text>
<line x1="2292.8" y1="939" x2="2292.8" y2="945.6" stroke="#747474" stroke-width="2"/>
<line x1="2463.3" y1="939" x2="2463.3" y2="945.6" stroke="#747474" stroke-width="2"/>
<text x="2461.9" y="962.6" font-size="17.8" font-weight="bold" fill="#555" text-anchor="middle" textLength="39" lengthAdjust="spacingAndGlyphs">2028</text>
<line x1="2552" y1="85.5" x2="2558.2" y2="85.5" stroke="#747474" stroke-width="2"/>
<g clip-path="url(#ct)"><text x="2562.2" y="93.1" font-size="18.3" fill="#6a6a6a" textLength="54" lengthAdjust="spacingAndGlyphs">52.500</text></g>
<line x1="2552" y1="140.2" x2="2558.2" y2="140.2" stroke="#747474" stroke-width="2"/>
<text x="2562.2" y="147.8" font-size="18.3" fill="#6a6a6a" textLength="54" lengthAdjust="spacingAndGlyphs">50.000</text>
<line x1="2552" y1="195.0" x2="2558.2" y2="195.0" stroke="#747474" stroke-width="2"/>
<text x="2562.2" y="202.6" font-size="18.3" fill="#6a6a6a" textLength="54" lengthAdjust="spacingAndGlyphs">47.500</text>
<line x1="2552" y1="249.7" x2="2558.2" y2="249.7" stroke="#747474" stroke-width="2"/>
<text x="2562.2" y="257.3" font-size="18.3" fill="#6a6a6a" textLength="54" lengthAdjust="spacingAndGlyphs">45.000</text>
<line x1="2552" y1="304.4" x2="2558.2" y2="304.4" stroke="#747474" stroke-width="2"/>
<text x="2562.2" y="312.0" font-size="18.3" fill="#6a6a6a" textLength="54" lengthAdjust="spacingAndGlyphs">42.500</text>
<line x1="2552" y1="359.1" x2="2558.2" y2="359.1" stroke="#747474" stroke-width="2"/>
<text x="2562.2" y="366.8" font-size="18.3" fill="#6a6a6a" textLength="54" lengthAdjust="spacingAndGlyphs">40.000</text>
<line x1="2552" y1="413.9" x2="2558.2" y2="413.9" stroke="#747474" stroke-width="2"/>
<text x="2562.2" y="421.5" font-size="18.3" fill="#6a6a6a" textLength="54" lengthAdjust="spacingAndGlyphs">37.500</text>
<line x1="2552" y1="468.6" x2="2558.2" y2="468.6" stroke="#747474" stroke-width="2"/>
<text x="2562.2" y="476.2" font-size="18.3" fill="#6a6a6a" textLength="54" lengthAdjust="spacingAndGlyphs">35.000</text>
<line x1="2552" y1="523.3" x2="2558.2" y2="523.3" stroke="#747474" stroke-width="2"/>
<text x="2562.2" y="530.9" font-size="18.3" fill="#6a6a6a" textLength="54" lengthAdjust="spacingAndGlyphs">32.500</text>
<line x1="2552" y1="578.0" x2="2558.2" y2="578.0" stroke="#747474" stroke-width="2"/>
<text x="2562.2" y="585.6" font-size="18.3" fill="#6a6a6a" textLength="54" lengthAdjust="spacingAndGlyphs">30.000</text>
<line x1="2552" y1="632.8" x2="2558.2" y2="632.8" stroke="#747474" stroke-width="2"/>
<text x="2562.2" y="640.4" font-size="18.3" fill="#6a6a6a" textLength="54" lengthAdjust="spacingAndGlyphs">27.500</text>
<line x1="2552" y1="687.5" x2="2558.2" y2="687.5" stroke="#747474" stroke-width="2"/>
<text x="2562.2" y="695.1" font-size="18.3" fill="#6a6a6a" textLength="54" lengthAdjust="spacingAndGlyphs">25.000</text>
<line x1="2552" y1="742.2" x2="2558.2" y2="742.2" stroke="#747474" stroke-width="2"/>
<text x="2562.2" y="749.8" font-size="18.3" fill="#6a6a6a" textLength="54" lengthAdjust="spacingAndGlyphs">22.500</text>
<line x1="2552" y1="796.9" x2="2558.2" y2="796.9" stroke="#747474" stroke-width="2"/>
<text x="2562.2" y="804.5" font-size="18.3" fill="#6a6a6a" textLength="54" lengthAdjust="spacingAndGlyphs">20.000</text>
<line x1="2552" y1="851.7" x2="2558.2" y2="851.7" stroke="#747474" stroke-width="2"/>
<text x="2562.2" y="859.3" font-size="18.3" fill="#6a6a6a" textLength="54" lengthAdjust="spacingAndGlyphs">17.500</text>
<line x1="2552" y1="906.4" x2="2558.2" y2="906.4" stroke="#747474" stroke-width="2"/>
<text x="2562.2" y="914.0" font-size="18.3" fill="#6a6a6a" textLength="54" lengthAdjust="spacingAndGlyphs">15.000</text>
<rect x="2551.2" y="516.6" width="71.2" height="25.8" fill="#4a70e2"/>
<line x1="2552" y1="528.9" x2="2556.3" y2="528.9" stroke="#dfe6fb" stroke-width="2"/>
<text x="2562" y="535.9" font-size="18.6" fill="#fff" textLength="55" lengthAdjust="spacingAndGlyphs">32.208</text>
</g>
</svg>
</body></html>
